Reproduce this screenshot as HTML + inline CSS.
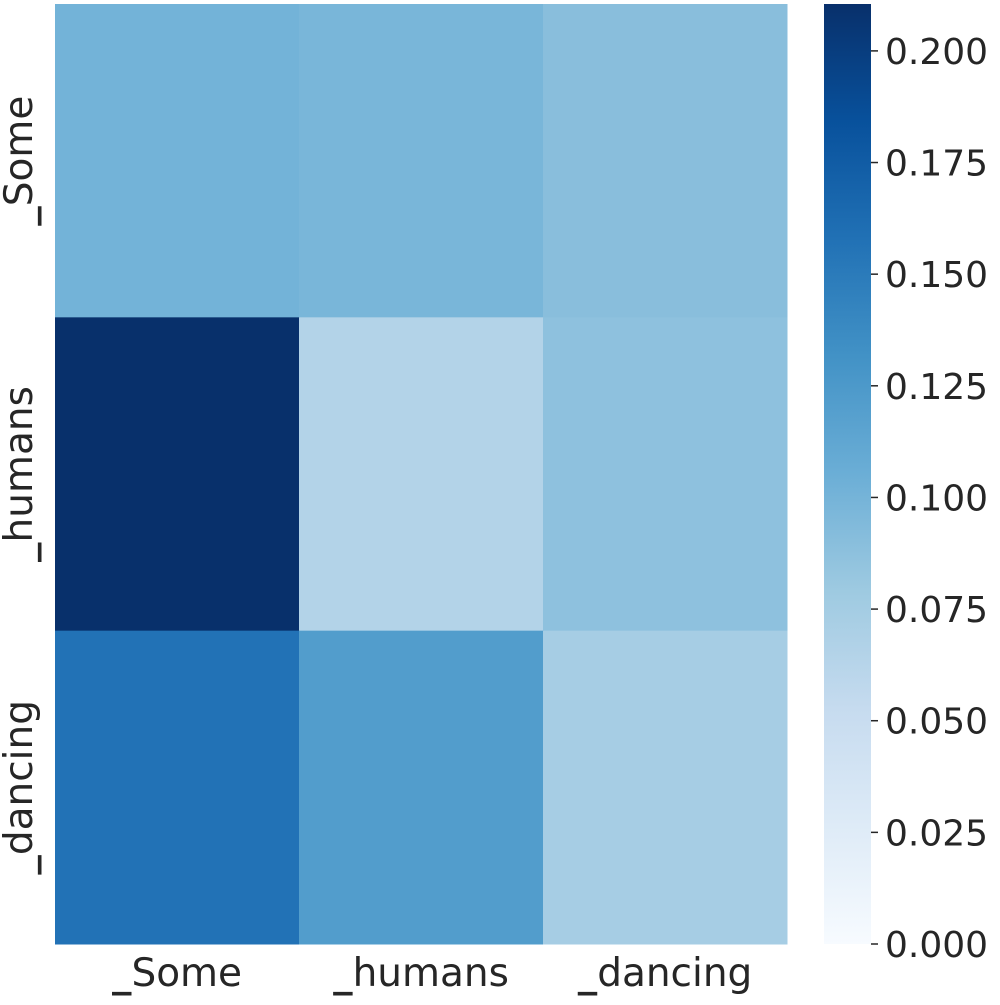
<!DOCTYPE html>
<html><head><meta charset="utf-8"><style>
html,body{margin:0;padding:0;background:#fff;}
svg text{font-family:"DejaVu Sans","Liberation Sans",sans-serif;fill:#262626;}
</style></head><body>
<svg id="chart" width="1000" height="1000" viewBox="0 0 1000 1000" xmlns="http://www.w3.org/2000/svg">
<defs>
<linearGradient id="blues" x1="0" y1="1" x2="0" y2="0">
<stop offset="0" stop-color="#f7fbff"/><stop offset="0.125" stop-color="#deebf7"/><stop offset="0.25" stop-color="#c6dbef"/><stop offset="0.375" stop-color="#9ecae1"/><stop offset="0.5" stop-color="#6baed6"/><stop offset="0.625" stop-color="#4292c6"/><stop offset="0.75" stop-color="#2171b5"/><stop offset="0.875" stop-color="#08519c"/><stop offset="1" stop-color="#08306b"/>
</linearGradient>
</defs>
<g id="cells"></g>
<g id="xlabels"></g>
<g id="ylabels"></g>
<rect x="824" y="4" width="47" height="940" fill="url(#blues)"/>
<g id="cticks"></g>
</svg>
<script>
const xCategories = ["_Some", "_humans", "_dancing"];
const yCategories = ["_Some", "_humans", "_dancing"];
const rowSome = [0.101, 0.098, 0.090];
const rowHumans = [0.2105, 0.065, 0.087];
const rowDancing = [0.157, 0.121, 0.074];
const colorTicks = [0, 0.025, 0.05, 0.075, 0.1, 0.125, 0.15, 0.175, 0.2];
const tickLabels = ["0.000","0.025","0.050","0.075","0.100","0.125","0.150","0.175","0.200"];
const vmin = 0, vmax = 0.2105;

const NS = "http://www.w3.org/2000/svg";
const L = 55, R = 787, T = 4, B = 944;
const rows = [rowSome, rowHumans, rowDancing];
const cw = (R - L) / xCategories.length, ch = (B - T) / yCategories.length;
const stops = ["#f7fbff","#deebf7","#c6dbef","#9ecae1","#6baed6","#4292c6","#2171b5","#08519c","#08306b"];
function hex(h){return [1,3,5].map(i=>parseInt(h.substr(i,2),16));}
function color(v){
  let t = Math.max(0, Math.min(1, (v - vmin) / (vmax - vmin))) * (stops.length - 1);
  let i = Math.min(Math.floor(t), stops.length - 2), f = t - i;
  const a = hex(stops[i]), b = hex(stops[i+1]);
  return "rgb(" + a.map((x,k)=>Math.round(x + (b[k]-x)*f)).join(",") + ")";
}
function cy(v){return B - (v - vmin) / (vmax - vmin) * (B - T);}
const cells = document.getElementById("cells");
rows.forEach((row, r) => row.forEach((v, c) => {
  const e = document.createElementNS(NS, "rect");
  
  
  e.setAttribute("x", L + c*cw); e.setAttribute("y", T + r*ch);
  e.setAttribute("width", cw + 0.5); e.setAttribute("height", ch + 0.5);
  e.setAttribute("fill", color(v));
  cells.appendChild(e);
}));
function labelContent(t, s){
  const u = document.createElementNS(NS, "tspan");
  u.setAttribute("font-weight", "bold");
  u.textContent = "_";
  const r = document.createElementNS(NS, "tspan");
  r.textContent = s.slice(1);
  t.appendChild(u); t.appendChild(r);
}
const xl = document.getElementById("xlabels");
xCategories.forEach((s, i) => {
  const t = document.createElementNS(NS, "text");
  
  
  t.setAttribute("x", L + (i+0.5)*cw); t.setAttribute("y", 986);
  t.setAttribute("text-anchor", "middle"); t.setAttribute("font-size", "39");
  labelContent(t, s); xl.appendChild(t);
});
const yl = document.getElementById("ylabels");
yCategories.forEach((s, i) => {
  const t = document.createElementNS(NS, "text");
  
  
  const y = T + (i+0.5)*ch;
  t.setAttribute("transform", "translate(32," + y + ") rotate(-90)");
  t.setAttribute("text-anchor", "middle"); t.setAttribute("font-size", "39");
  labelContent(t, s); yl.appendChild(t);
});
const ct = document.getElementById("cticks");
colorTicks.forEach((v, i) => {
  const y = cy(v);
  const l = document.createElementNS(NS, "line");
  
  
  l.setAttribute("x1", 871); l.setAttribute("x2", 878); l.setAttribute("y1", y); l.setAttribute("y2", y);
  l.setAttribute("stroke", "#262626"); l.setAttribute("stroke-width", "1.5");
  ct.appendChild(l);
  const t = document.createElementNS(NS, "text");
  
  
  t.setAttribute("x", 885); t.setAttribute("y", y + 13);
  t.setAttribute("font-size", "36");
  t.textContent = tickLabels[i]; ct.appendChild(t);
});
</script>
</body></html>
